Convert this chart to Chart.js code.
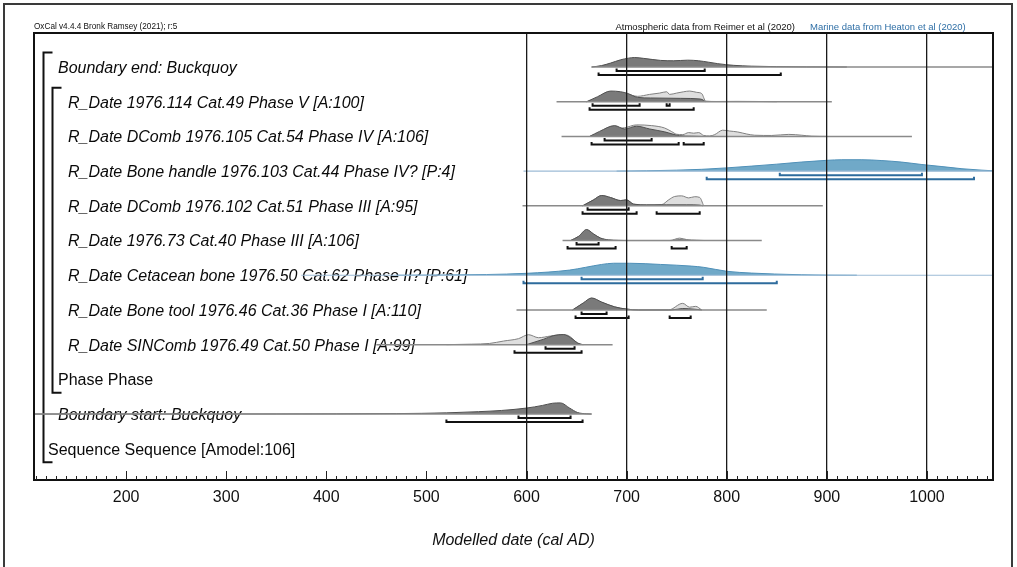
<!DOCTYPE html>
<html><head><meta charset="utf-8">
<script src="https://cdn.jsdelivr.net/npm/chart.js@4.4.1/dist/chart.umd.min.js"></script>
<style>
html,body{margin:0;padding:0;background:#fff;}
#wrap{position:relative;width:1017px;height:567px;overflow:hidden;background:#fff;}
#frame{position:absolute;left:3px;top:3px;width:1006px;height:600px;border:2px solid #3a3a3a;}
canvas{position:absolute;left:0;top:0;}
</style></head><body>
<div id="wrap"><div id="frame"></div><canvas id="c" width="1017" height="567"></canvas></div>
<script>
// ---------- data ----------
const rowLabels = [
  "Boundary end: Buckquoy",
  "R_Date 1976.114 Cat.49 Phase V [A:100]",
  "R_Date DComb 1976.105 Cat.54 Phase IV [A:106]",
  "R_Date Bone handle 1976.103 Cat.44 Phase IV? [P:4]",
  "R_Date DComb 1976.102 Cat.51 Phase III [A:95]",
  "R_Date 1976.73 Cat.40 Phase III [A:106]",
  "R_Date Cetacean bone 1976.50 Cat.62 Phase II? [P:61]",
  "R_Date Bone tool 1976.46 Cat.36 Phase I [A:110]",
  "R_Date SINComb 1976.49 Cat.50 Phase I [A:99]",
  "Phase Phase",
  "Boundary start: Buckquoy",
  "Sequence Sequence [Amodel:106]"
];
const rowDepth  = [1,2,2,2,2,2,2,2,2,1,1,0];
const rowItalic = [true,true,true,true,true,true,true,true,true,false,true,false];
const groups = [[0,11],[1,9]];   // Sequence, Phase (first row, last row)

const xTickLabels = [200,300,400,500,600,700,800,900,1000];
const gridYears = [600,700,800,900,1000];
const headerLeft = "OxCal v4.4.4 Bronk Ramsey (2021); r:5";
const headerAtm = "Atmospheric data from Reimer et al (2020)";
const headerMar = "Marine data from Heaton et al (2020)";
const axisTitle = "Modelled date (cal AD)";

// [year, relative probability]
const endDark = [[665,0],[675,0.12],[684,0.33],[694,0.6],[702,0.74],[708,0.79],[717,0.72],[734,0.55],[747,0.52],[761,0.57],[772,0.52],[782,0.4],[791,0.28],[807,0.14],[825,0.07],[850,0.03],[880,0.01],[920,0]];
const d114Light = [[660,0],[675,0.3],[688,0.68],[700,0.64],[711,0.45],[723,0.61],[733,0.72],[740,0.83],[743,0.61],[750,0.72],[757,0.83],[763,0.89],[770,0.78],[775,0.68],[779,0.05],[790,0.02],[810,0.03],[830,0.02],[850,0]];
const d114Dark = [[660,0],[671,0.42],[684,0.89],[694,0.83],[701,0.69],[711,0.36],[724,0.31],[754,0.28],[774,0.22],[779,0]];
const d105Light = [[663,0],[673,0.3],[688,0.62],[698,0.72],[710,0.96],[725,0.9],[738,0.7],[745,0.4],[750,0.18],[756,0.15],[762,0.32],[767,0.27],[772,0.32],[777,0.08],[783,0.04],[788,0.15],[796,0.52],[803,0.45],[811,0.37],[820,0.2],[828,0.1],[845,0.08],[862,0.17],[875,0.1],[885,0.02],[900,0]];
const d105Dark = [[663,0],[673,0.42],[688,0.9],[698,0.62],[710,0.85],[723,0.62],[738,0.38],[753,0.06],[765,0.02],[775,0]];
const d103Marine = [[690,0],[720,0.03],[750,0.08],[775,0.15],[800,0.27],[825,0.42],[850,0.58],[875,0.76],[900,0.9],[915,0.95],[935,0.95],[955,0.88],[975,0.75],[995,0.55],[1015,0.38],[1035,0.2],[1055,0.08],[1066,0.03]];
const d102Light = [[656,0],[667,0.5],[675,0.86],[684,0.69],[694,0.44],[700,0.48],[707,0.14],[720,0.06],[735,0.1],[742,0.5],[748,0.78],[755,0.83],[762,0.66],[768,0.76],[773,0.7],[777,0]];
const d102Dark = [[656,0],[667,0.5],[675,0.86],[684,0.69],[694,0.44],[700,0.5],[707,0.14],[720,0.08],[740,0.08],[760,0.08],[773,0.06],[776,0]];
const d73Light = [[644,0],[652,0.33],[660,0.88],[667,0.53],[674,0.2],[682,0.05],[692,0.01],[700,0],[743,0],[753,0.2],[760,0.08],[770,0.03],[778,0]];
const d73Dark = [[644,0],[652,0.35],[660,0.92],[667,0.55],[674,0.2],[682,0.05],[692,0.01],[700,0],[745,0],[753,0.06],[762,0]];
const d50Marine = [[470,0],[520,0.02],[560,0.06],[600,0.16],[643,0.43],[659,0.66],[675,0.9],[687,1.0],[703,1.0],[734,0.9],[765,0.76],[777,0.66],[800,0.33],[825,0.18],[848,0.1],[875,0.04],[900,0.01],[930,0]];
const d46Light = [[646,0],[657,0.58],[665,0.97],[675,0.64],[688,0.25],[700,0.07],[712,0],[742,0],[756,0.55],[763,0.23],[769,0.3],[775,0]];
const d46Dark = [[646,0],[657,0.6],[665,1.0],[675,0.66],[688,0.26],[700,0.07],[712,0],[745,0],[756,0.12],[768,0.06],[775,0]];
const d49Light = [[520,0],[545,0.04],[563,0.1],[577,0.3],[592,0.5],[602,0.83],[612,0.58],[624,0.72],[634,0.83],[641,0.78],[652,0.08],[657,0]];
const d49Dark = [[600,0],[617,0.45],[627,0.75],[637,0.84],[644,0.58],[651,0.14],[656,0]];
const startDark = [[108,0],[350,0.01],[470,0.04],[520,0.1],[552,0.2],[575,0.3],[600,0.5],[616,0.72],[626,0.9],[634,0.93],[643,0.5],[651,0.13],[660,0.02],[665,0]];

// extents of each row's base line
const lineSpan = [[665,1066],[630,905],[635,985],[597,1066],[596,896],[636,835],[375,1066],[590,840],[450,686],null,[108,665],null];
// highest probability ranges
const range68 = [[[690,778]],[[666,713],[740,743]],[[678,725]],[[853,995]],[[661,702]],[[650,672]],[[655,776]],[[655,680]],[[619,648]],[],[[592,644]],[]];
const range95 = [[[672,854]],[[663,767]],[[665,752],[757,777]],[[780,1047]],[[656,710],[730,773]],[[641,689],[745,760]],[[597,850]],[[649,702],[743,764]],[[588,655]],[],[[520,656]],[]];
const rowMarine = [false,false,false,true,false,false,true,false,false,false,false,false];
const rowLight = [null,d114Light,d105Light,null,d102Light,d73Light,null,d46Light,d49Light,null,null,null];
const rowDark  = [endDark,d114Dark,d105Dark,d103Marine,d102Dark,d73Dark,d50Marine,d46Dark,d49Dark,null,startDark,null];

// ---------- style ----------
const ROWPX = 34.7;
const H = 12 / ROWPX;
const OFF68 = 4 / ROWPX, OFF95 = 8 / ROWPX, TICK = 2.5 / ROWPX;
const FONT = '"Liberation Sans", Arial, Helvetica, sans-serif';
const C = {
  lightFill:'#dedede', lightLine:'#808080',
  darkFill:'#7a7a7a', darkLine:'#505050',
  blueFill:'#70a9c8', blueLine:'#4f90b8', blueBase:'#9dbbd6', blueRange:'#2e6c9d',
  base:'#8a8a8a', range:'#111111'
};

const datasets = [];
function dist(arr, r, fill, line, order) {
  datasets.push({
    data: arr.map(([yr, d]) => ({x: yr, y: r - d * H})),
    fill: {value: r}, backgroundColor: fill, borderColor: line, borderWidth: 1,
    pointRadius: 0, cubicInterpolationMode: 'monotone', order
  });
}
function seg(pts, color, width, order) {
  datasets.push({data: pts, fill: false, borderColor: color, borderWidth: width,
    pointRadius: 0, tension: 0, order, borderCapStyle: 'butt', borderJoinStyle: 'miter'});
}
rowLabels.forEach((_, r) => {
  const m = rowMarine[r];
  if (rowLight[r]) dist(rowLight[r], r, C.lightFill, C.lightLine, 5);
  if (rowDark[r]) dist(rowDark[r], r, m ? C.blueFill : C.darkFill, m ? C.blueLine : C.darkLine, 4);
  if (lineSpan[r]) seg([{x: lineSpan[r][0], y: r}, {x: lineSpan[r][1], y: r}], m ? C.blueBase : C.base, m ? 1.2 : 1.5, 3);
  [[range68[r], OFF68], [range95[r], OFF95]].forEach(([list, off]) => {
    list.forEach(([a, b]) => seg([{x: a, y: r + off - TICK}, {x: a, y: r + off}, {x: b, y: r + off}, {x: b, y: r + off - TICK}],
      m ? C.blueRange : C.range, 2, 1));
  });
});

const deco = {
  id: 'deco',
  beforeDatasetsDraw(chart) {
    const {ctx, chartArea: a, scales: {y}} = chart;
    ctx.save();
    ctx.fillStyle = '#0a0a0a';
    ctx.textBaseline = 'middle';
    rowLabels.forEach((t, i) => {
      ctx.font = (rowItalic[i] ? 'italic ' : '') + '16px ' + FONT;
      ctx.fillText(t, a.left + 14 + rowDepth[i] * 10, y.getPixelForValue(i) + 1.5);
    });
    // group brackets
    ctx.strokeStyle = '#111'; ctx.lineWidth = 2;
    groups.forEach(([f, l], lev) => {
      const bx = a.left + 9.5 + lev * 9;
      const t = y.getPixelForValue(f) - 14.5 + lev * 0.5, b = y.getPixelForValue(l) + 13.5;
      ctx.beginPath();
      ctx.moveTo(bx + 9, t); ctx.lineTo(bx, t); ctx.lineTo(bx, b); ctx.lineTo(bx + 9, b);
      ctx.stroke();
    });
    ctx.restore();
  },
  afterDraw(chart) {
    const {ctx, chartArea: a, scales: {x}} = chart;
    ctx.save();
    // frame
    ctx.strokeStyle = '#111'; ctx.lineWidth = 2;
    ctx.strokeRect(a.left, a.top, a.right - a.left, a.bottom - a.top);
    // inward ticks
    ctx.lineWidth = 1; ctx.strokeStyle = '#222';
    for (let v = Math.ceil(x.min / 10) * 10; v <= x.max; v += 10) {
      const px = Math.round(x.getPixelForValue(v)) + 0.5;
      const len = v % 100 === 0 ? 9 : 4;
      ctx.beginPath(); ctx.moveTo(px, a.bottom); ctx.lineTo(px, a.bottom - len); ctx.stroke();
    }
    // header
    ctx.textBaseline = 'middle';
    ctx.fillStyle = '#111'; ctx.textAlign = 'left';
    ctx.font = '8.2px ' + FONT;
    ctx.fillText(headerLeft, a.left, a.top - 6);
    ctx.font = '9.5px ' + FONT;
    ctx.textAlign = 'right'; ctx.fillText(headerAtm, 795, a.top - 6);
    ctx.textAlign = 'left'; ctx.fillStyle = '#2f6fa6'; ctx.fillText(headerMar, 810, a.top - 6);
    ctx.restore();
  }
};

new Chart(document.getElementById('c'), {
  type: 'line',
  data: {datasets},
  options: {
    responsive: false, animation: false, events: [],
    layout: {padding: {left: 34, right: 24, top: 33, bottom: 0}},
    plugins: {legend: {display: false}, tooltip: {enabled: false}},
    scales: {
      x: {
        type: 'linear', min: 108, max: 1066,
        afterFit: s => { s.height = 87; },
        afterBuildTicks: s => {
          const t = [];
          for (let v = 110; v <= 1060; v += 10) t.push({value: v});
          s.ticks = t;
        },
        grid: {
          z: 1, drawTicks: false, lineWidth: 1.3,
          color: c => (c.tick && gridYears.includes(c.tick.value)) ? '#1a1a1a' : 'rgba(0,0,0,0)'
        },
        border: {display: false},
        ticks: {
          autoSkip: false, maxRotation: 0, padding: 8, color: '#111',
          font: {family: FONT, size: 16},
          callback: v => xTickLabels.includes(v) ? String(v) : ''
        },
        title: {display: true, text: axisTitle, color: '#111',
          font: {family: FONT, size: 16, style: 'italic'}, padding: {top: 0, bottom: 17}}
      },
      y: {type: 'linear', min: -0.98, max: 11.9, reverse: true, display: false}
    }
  },
  plugins: [deco]
});
</script>
</body></html>
